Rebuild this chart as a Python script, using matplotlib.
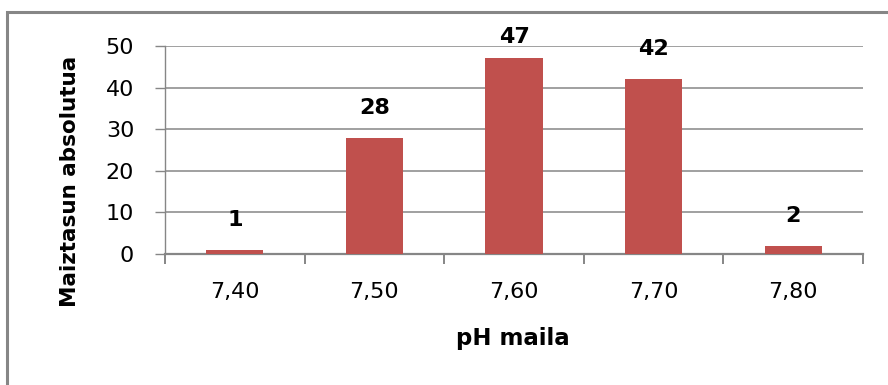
import matplotlib
matplotlib.use("Agg")
import matplotlib.pyplot as plt
from matplotlib.patches import Rectangle
from matplotlib.ticker import FixedLocator

ph_levels = ["7,40", "7,50", "7,60", "7,70", "7,80"]
counts = [1, 28, 47, 42, 2]
y_ticks = [0, 10, 20, 30, 40, 50]

bar_color = "#C0504D"
gray = "#868686"

plt.rcParams["font.family"] = "DejaVu Sans"

fig = plt.figure(figsize=(8.88, 3.85), dpi=100)
ax = fig.add_axes([165 / 888, 1 - 254 / 385, 698 / 888, 208 / 385])

x = list(range(len(ph_levels)))
ax.bar(x, counts, width=0.41, color=bar_color, zorder=3)

ax.set_xlim(-0.5, len(ph_levels) - 0.5)
ax.set_ylim(0, 50)
ax.set_yticks(y_ticks)
ax.set_xticks(x)
ax.set_xticklabels(ph_levels)
ax.xaxis.set_minor_locator(FixedLocator([i - 0.5 for i in range(len(ph_levels) + 1)]))

ax.grid(axis="y", color=gray, lw=1.1, zorder=0)
for s in ["top", "right"]:
    ax.spines[s].set_visible(False)
ax.spines["left"].set_color(gray)
ax.spines["left"].set_linewidth(1.0)
ax.spines["bottom"].set_color(gray)
ax.spines["bottom"].set_linewidth(1.6)

ax.tick_params(axis="y", length=7.2, width=1.0, color=gray, pad=15, labelsize=16)
ax.tick_params(axis="x", which="major", length=0, pad=20, labelsize=16)
ax.tick_params(axis="x", which="minor", length=7.2, width=1.4, color=gray)

# value labels above bars, kept inside the top of the frame
for xi, v in zip(x, counts):
    top_px = ax.transData.transform((xi, v))[1]
    limit_px = fig.bbox.height - 37
    off = min(30, limit_px - top_px)
    ax.annotate(str(v), (xi, v), xytext=(0, off), textcoords="offset pixels",
                ha="center", va="center", fontsize=16, fontweight="bold",
                annotation_clip=False)

fig.text(70 / 888, 1 - 181 / 385, "Maiztasun absolutua", rotation=90,
         ha="center", va="center", fontsize=15.5, fontweight="bold")
fig.text(513 / 888, 1 - 338 / 385, "pH maila",
         ha="center", va="center", fontsize=16.5, fontweight="bold")

fig.add_artist(Rectangle((7 / 888, -0.5), 2, 0.5 + 1 - 12 / 385,
                         transform=fig.transFigure, fill=False,
                         edgecolor=gray, lw=2.2))

fig.savefig("out.png", dpi=100)
